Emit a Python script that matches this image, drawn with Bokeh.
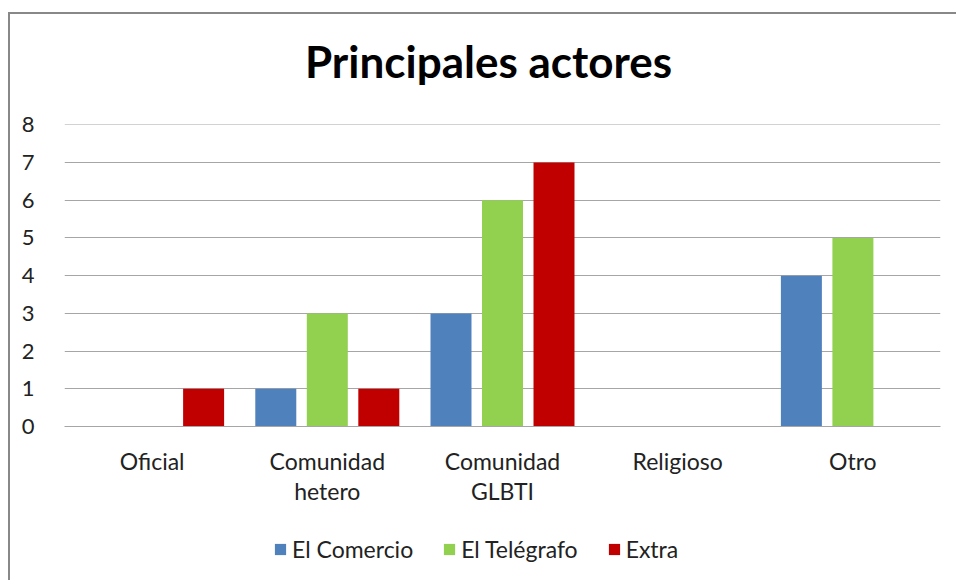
from bokeh.plotting import figure
from bokeh.models import ColumnDataSource, Legend, LegendItem, FactorRange, Range1d, Label
from bokeh.layouts import column
from bokeh.transform import dodge
from bokeh.embed import file_html
from bokeh.resources import INLINE

categories = ["Oficial", "Comunidad\nhetero", "Comunidad\nGLBTI", "Religioso", "Otro"]
series_names = ["El Comercio", "El Telégrafo", "Extra"]
el_comercio = [0, 1, 3, 0, 4]
el_telegrafo = [0, 3, 6, 0, 5]
extra = [1, 1, 7, 0, 0]
colors = ["#4F81BD", "#92D050", "#C00000"]
y_ticks = [0, 1, 2, 3, 4, 5, 6, 7, 8]
title_text = "Principales actores"

FONT = "Lato"
W = 946

src = ColumnDataSource(dict(cat=categories, a=el_comercio, b=el_telegrafo, c=extra))
keys = ["a", "b", "c"]
offsets = [-0.294, 0.0, 0.294]

# ---- title strip ----
t = figure(width=W, height=94, output_backend="svg", toolbar_location=None,
           x_axis_location=None, y_axis_location=None,
           min_border_left=0, min_border_right=0, min_border_top=0, min_border_bottom=0)
t.outline_line_color = None
t.grid.grid_line_color = None
t.add_layout(Label(x=424, y=48, x_units="screen", y_units="screen", text=title_text,
                   text_font=FONT, text_font_size="44px", text_font_style="bold",
                   text_color="#000000", text_align="center", text_baseline="middle"))

# ---- main chart ----
p = figure(x_range=FactorRange(*categories, range_padding=0), y_range=Range1d(0, 8.01),
           width=W, height=402, output_backend="svg", toolbar_location=None,
           min_border_left=54, min_border_right=16, min_border_top=16,
           min_border_bottom=84)

renderers = []
for key, off, col in zip(keys, offsets, colors):
    r = p.vbar(x=dodge("cat", off, range=p.x_range), top=key, width=0.234,
               source=src, color=col, line_color=None)
    renderers.append(r)

p.outline_line_color = None
p.xgrid.grid_line_color = None
p.ygrid.grid_line_color = "#A6A6A6"
p.ygrid.grid_line_width = 1
p.yaxis.ticker = y_ticks
p.yaxis.axis_line_color = None
p.yaxis.major_tick_line_color = None
p.yaxis.minor_tick_line_color = None
p.yaxis.major_label_text_font = FONT
p.yaxis.major_label_text_font_size = "22px"
p.yaxis.major_label_text_color = "#222222"
p.yaxis.major_label_standoff = 24

p.xaxis.axis_line_color = "#A6A6A6"
p.xaxis.major_tick_line_color = None
p.xaxis.minor_tick_line_color = None
p.xaxis.major_label_text_font = FONT
p.xaxis.major_label_text_font_size = "23px"
p.xaxis.major_label_text_color = "#222222"
p.xaxis.major_label_text_line_height = 1.1
p.xaxis.major_label_standoff = 14

# ---- legend strip (bars kept outside its visible range; only the legend shows) ----
q = figure(x_range=p.x_range, y_range=Range1d(100, 101),
           width=W, height=70, output_backend="svg", toolbar_location=None,
           x_axis_location=None, y_axis_location=None,
           min_border_left=0, min_border_right=0, min_border_top=0, min_border_bottom=0)
q.outline_line_color = None
q.grid.grid_line_color = None
leg_renderers = []
for key, off, col in zip(keys, offsets, colors):
    r = q.vbar(x=dodge("cat", off, range=q.x_range), top=key, width=0.234,
               source=src, color=col, line_color=None)
    leg_renderers.append(r)

legend = Legend(items=[LegendItem(label=n, renderers=[r]) for n, r in zip(series_names, leg_renderers)],
                orientation="horizontal", location=(209, 17),
                label_text_font=FONT, label_text_font_size="23px",
                label_text_color="#222222", glyph_width=14, glyph_height=14,
                spacing=29, label_standoff=5, border_line_color=None,
                background_fill_alpha=0, margin=0, padding=4)
q.add_layout(legend, "center")

layout = column(t, p, q, spacing=0,
                styles={"border-left": "2px solid #888888", "border-top": "2px solid #888888",
                        "margin-left": "8px", "margin-top": "12px"})

open("out.html", "w").write(file_html(layout, INLINE))
